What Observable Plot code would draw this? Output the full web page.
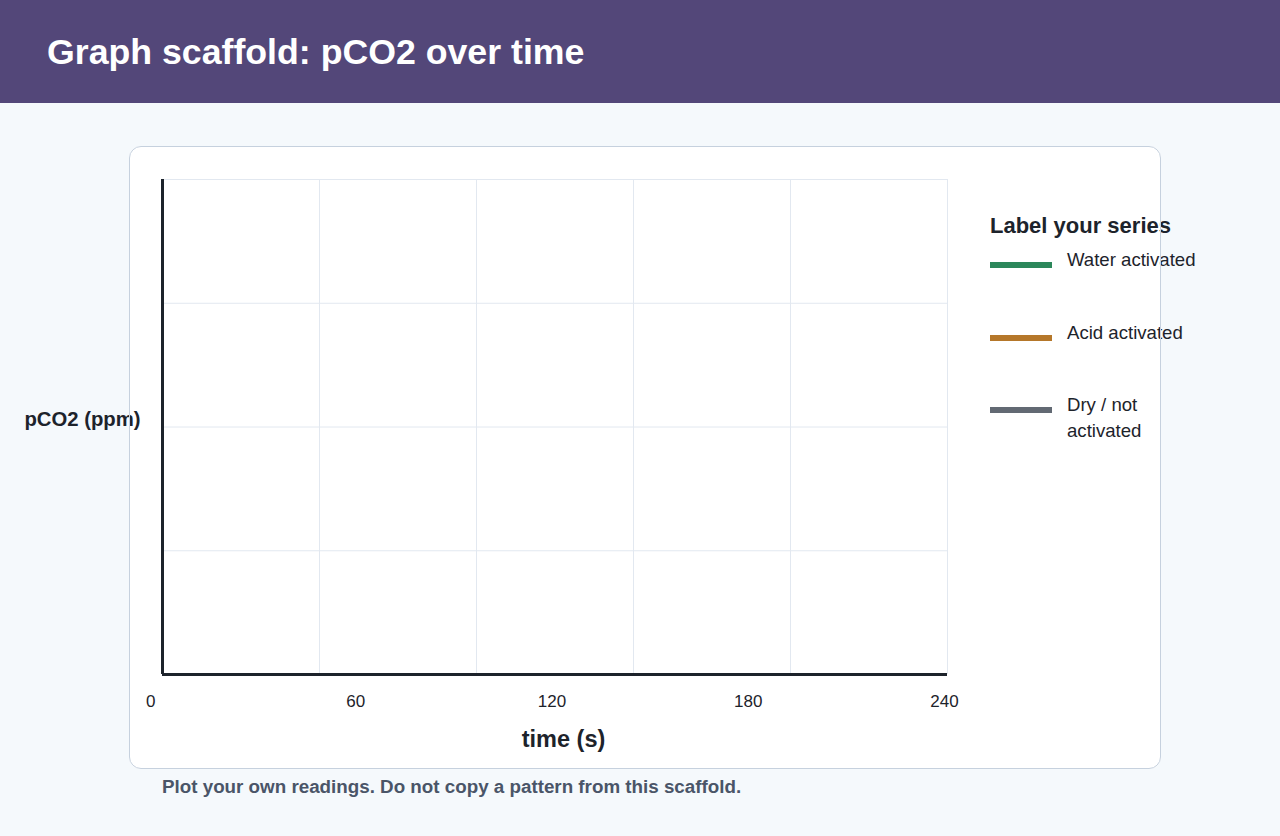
<!DOCTYPE html>
<html>
<head>
<meta charset="utf-8">
<title>Graph scaffold: pCO2 over time</title>
<script src="https://cdn.jsdelivr.net/npm/d3@7"></script>
<script src="https://cdn.jsdelivr.net/npm/@observablehq/plot@0.6"></script>
<style>
  html, body { margin: 0; padding: 0; }
  body {
    width: 1280px; height: 836px; position: relative; overflow: hidden;
    background: #f5f9fc;
    font-family: "Liberation Sans", Arial, sans-serif;
    color: #1d232b;
  }
  header {
    position: absolute; left: 0; top: 0; width: 1280px; height: 103px;
    background: #534779;
  }
  header h1 {
    margin: 0; position: absolute; left: 47px; top: 1px;
    line-height: 103px; font-size: 35.7px; font-weight: bold; color: #ffffff;
  }
  .card, .card-edge {
    position: absolute; left: 129px; top: 146px; width: 1032px; height: 623px;
    border-radius: 12px; box-sizing: border-box;
  }
  .card { background: #ffffff; }
  .card-edge { border: 1.5px solid #c6d1de; pointer-events: none; }
  #chart { position: absolute; left: 0; top: 103px; }
  .legend { position: absolute; left: 990px; top: 213px; }
  .legend h2 { margin: 0 0 8px 0; font-size: 22px; line-height: 26px; font-weight: bold; color: #1d232b; }
  .legend .item { display: flex; align-items: flex-start; height: 72.5px; }
  .legend .swatch { width: 62px; height: 6px; margin-top: 15px; flex: none; }
  .legend .name { margin-left: 15px; width: 135px; font-size: 18.6px; line-height: 26px; color: #1d232b; }
  .caption {
    position: absolute; left: 162px; top: 776px;
    font-size: 18.8px; line-height: 22px; font-weight: bold; color: #4a5568;
  }
</style>
</head>
<body>
<header><h1>Graph scaffold: pCO2 over time</h1></header>
<div class="card"></div>
<div id="chart"></div>
<div class="legend" id="legend"></div>
<div class="caption">Plot your own readings. Do not copy a pattern from this scaffold.</div>
<div class="card-edge"></div>

<script>
// Axis setup for the blank worksheet: time in seconds along x, pCO2 rows up y.
const timeDomain = [0, 240];
const timeTicks = [0, 60, 120, 180, 240];
const timeGrid = [48, 96, 144, 192, 240];   // five empty columns
const pco2Domain = [0, 4];
const pco2Grid = [1, 2, 3, 4];              // four empty rows
const xLabel = "time (s)";
const yLabel = "pCO2 (ppm)";

// Series the student fills in, with the line colour for each.
const seriesNames = ["Water activated", "Acid activated", "Dry / not activated"];
const seriesColors = ["#2b875a", "#b5772a", "#626973"];

const ink = "#1d232b";
const gridColor = "#e2e8f0";

const chart = Plot.plot({
  width: 1280,
  height: 733,
  marginTop: 76,
  marginRight: 333,
  marginBottom: 162,
  marginLeft: 162,
  style: {
    background: "transparent",
    fontFamily: "'Liberation Sans', Arial, sans-serif",
    fontSize: "17px",
    color: ink,
    overflow: "visible"
  },
  x: {domain: timeDomain, axis: null},
  y: {domain: pco2Domain, axis: null},
  marks: [
    Plot.gridX(timeGrid, {stroke: gridColor, strokeOpacity: 1, strokeWidth: 1}),
    Plot.gridY(pco2Grid, {stroke: gridColor, strokeOpacity: 1, strokeWidth: 1}),
    Plot.ruleX([timeDomain[0]], {stroke: ink, strokeWidth: 3}),
    Plot.ruleY([pco2Domain[0]], {stroke: ink, strokeWidth: 3}),
    // the origin label sits just left of the y axis line
    Plot.text(timeTicks.slice(0, 1), {
      x: d => d, text: d => String(d), frameAnchor: "bottom",
      textAnchor: "end", dx: -7, dy: 32, fill: ink
    }),
    Plot.text(timeTicks.slice(1), {
      x: d => d, text: d => String(d), frameAnchor: "bottom",
      dx: -3, dy: 32, fill: ink
    }),
    Plot.text([yLabel], {
      text: d => d, frameAnchor: "left", textAnchor: "end",
      dx: -22, dy: -8, fontSize: 20.3, fontWeight: "bold", fill: ink
    }),
    Plot.text([xLabel], {
      text: d => d, frameAnchor: "bottom",
      dx: 8.5, dy: 72, fontSize: 23.5, fontWeight: "bold", fill: ink
    })
  ]
});
document.getElementById("chart").append(chart);

// Legend beside the plot area
const legend = d3.select("#legend");
legend.append("h2").text("Label your series");
seriesNames.forEach((name, i) => {
  const item = legend.append("div").attr("class", "item");
  item.append("div").attr("class", "swatch").style("background", seriesColors[i]);
  item.append("div").attr("class", "name").text(name);
});
</script>
</body>
</html>
